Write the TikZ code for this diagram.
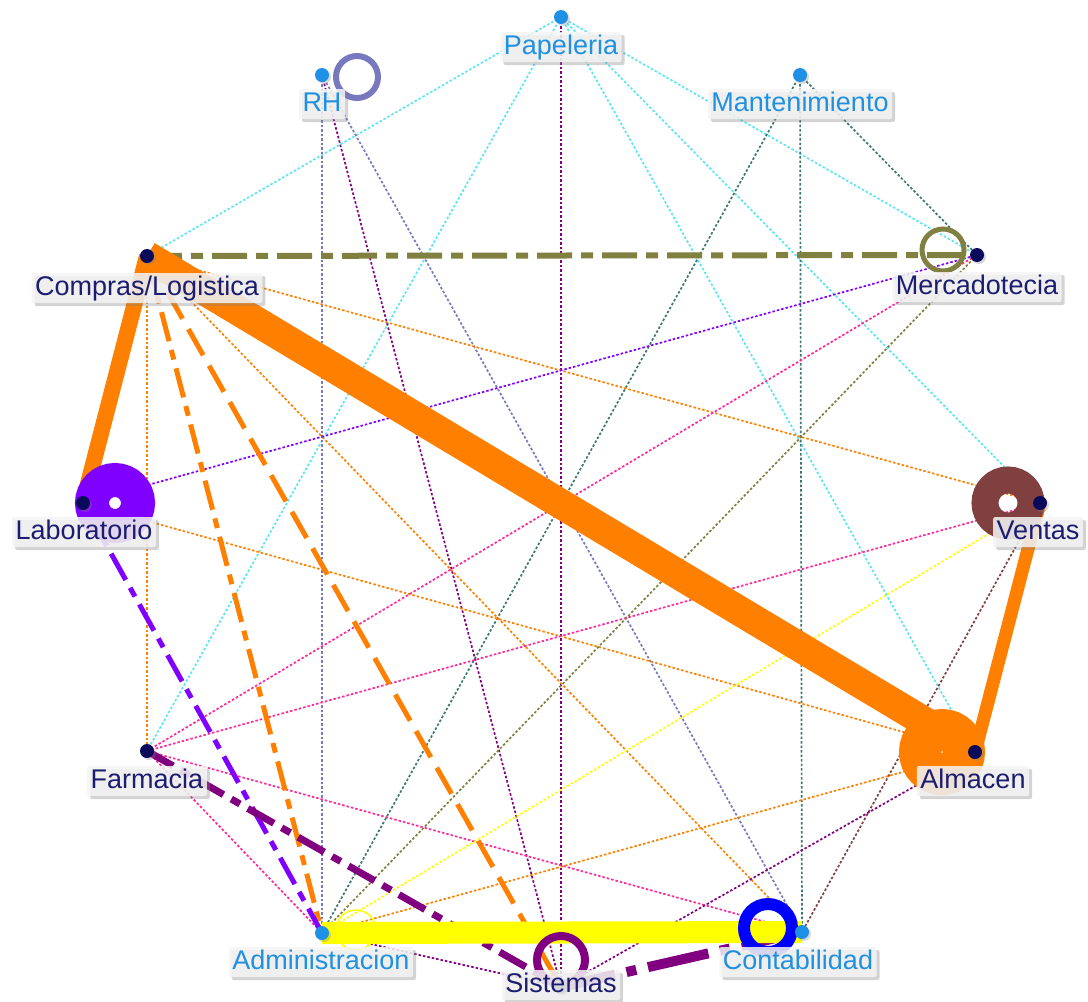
\documentclass[tikz,border=0pt]{standalone}
\usepackage{fontspec}
\setmainfont{Liberation Sans}
\usetikzlibrary{shadows,calc}
\definecolor{cCyan}{RGB}{90,230,240}
\definecolor{cTeal}{RGB}{60,120,110}
\definecolor{cLav}{RGB}{120,120,190}
\definecolor{cPink}{RGB}{255,40,150}
\definecolor{cYel}{RGB}{255,255,0}
\definecolor{cOra}{RGB}{255,128,0}
\definecolor{cOli}{RGB}{128,128,64}
\definecolor{cVio}{RGB}{128,0,255}
\definecolor{cBro}{RGB}{128,64,64}
\definecolor{cPur}{RGB}{128,0,128}
\definecolor{cBlu}{RGB}{0,0,255}
\definecolor{dotNavy}{RGB}{10,10,90}
\definecolor{dotBlue}{RGB}{30,144,230}
\definecolor{txtNavy}{RGB}{28,28,112}
\definecolor{txtBlue}{RGB}{32,144,224}
\definecolor{boxFill}{RGB}{244,244,244}
\pgfdeclarelayer{edges}
\pgfsetlayers{edges,main}
\begin{document}
\begin{tikzpicture}[x=1pt,y=-1pt,
  dotnode/.style={circle,inner sep=0pt,minimum size=14pt,fill=#1,
    drop shadow={shadow xshift=2pt,shadow yshift=-2pt,opacity=0.3}},
  lbl/.style={font=\fontsize{27}{29}\selectfont,text=#1,fill=boxFill,fill opacity=0.85,text opacity=1,
    rounded corners=2pt,inner xsep=3.5pt,inner ysep=2pt,text height=20pt,text depth=6pt,
    drop shadow={shadow xshift=3pt,shadow yshift=-3pt,opacity=0.35}},
  thin/.style={line width=1.7pt,dash pattern=on 2.5pt off 2pt,draw=#1},
  dashdot/.style={line width=#1,dash pattern=on 30pt off 9pt on 10pt off 9pt},
  longdash/.style={line width=#1,dash pattern=on 30pt off 12pt}
]
\useasboundingbox (0,0) rectangle (1088,1002);

% dots
\node[dotnode=dotBlue] (pap) at (561,17) {};
\node[dotnode=dotBlue] (rh) at (322,75) {};
\node[dotnode=dotBlue] (man) at (800,75) {};
\node[dotnode=dotNavy] (com) at (147,256) {};
\node[dotnode=dotNavy] (mer) at (977,255) {};
\node[dotnode=dotNavy] (lab) at (83,503) {};
\node[dotnode=dotNavy] (ven) at (1040,503) {};
\node[dotnode=dotNavy] (far) at (147,751) {};
\node[dotnode=dotNavy] (alm) at (975,752) {};
\node[dotnode=dotBlue] (adm) at (322,933) {};
\node[dotnode=dotBlue] (con) at (802,932) {};
\node[dotnode=dotNavy] (sis) at (561,987) {};

% labels
\node[lbl=txtBlue] (papL) at (561,47) {Papeleria};
\node[lbl=txtBlue] (rhL) at (322,104) {RH};
\node[lbl=txtBlue] (manL) at (800,104) {Mantenimiento};
\node[lbl=txtNavy] (comL) at (147,288) {Compras/Logistica};
\node[lbl=txtNavy] (merL) at (977,287) {Mercadotecia};
\node[lbl=txtNavy] (labL) at (84,532) {Laboratorio};
\node[lbl=txtNavy] (venL) at (1038,532) {Ventas};
\node[lbl=txtNavy] (farL) at (147,781) {Farmacia};
\node[lbl=txtNavy] (almL) at (973,781) {Almacen};
\node[lbl=txtBlue] (admL) at (321,962) {Administracion};
\node[lbl=txtBlue] (conL) at (798,962) {Contabilidad};
\node[lbl=txtNavy] (sisL) at (561,985) {Sistemas};

\begin{pgfonlayer}{edges}
% thin dotted edges
\draw[thin=cCyan] (pap.center) -- (com.center);
\draw[thin=cCyan] (pap.center) -- (far.center);
\draw[thin=cCyan] (pap.center) -- (mer.center);
\draw[thin=cCyan] (pap.center) -- (ven.center);
\draw[thin=cCyan] (pap.center) -- (alm.center);
\draw[thin=cPur] (pap.center) -- (sis.center);
\draw[thin=cLav] (rh.center) -- (adm.center);
\draw[thin=cPur] (rh.center) -- (sis.center);
\draw[thin=cLav] (rh.center) -- (con.center);
\draw[thin=cTeal] (man.center) -- (mer.center);
\draw[thin=cTeal] (man.center) -- (con.center);
\draw[thin=cTeal] (man.center) -- (adm.center);
\draw[thin=cOra] (com.center) -- (far.center);
\draw[thin=cOra] (com.center) -- (ven.center);
\draw[thin=cOra] (com.center) -- (con.center);
\draw[thin=cVio] (lab.center) -- (mer.center);
\draw[thin=cOra] (lab.center) -- (alm.center);
\draw[thin=cPink] (far.center) -- (mer.center);
\draw[thin=cPink] (far.center) -- (ven.center);
\draw[thin=cPink] (far.center) -- (con.center);
\draw[thin=cPink] (far.center) -- (adm.center);
\draw[thin=cOli] (mer.center) -- (adm.center);
\draw[thin=cYel] (ven.center) -- (adm.center);
\draw[thin=cBro] (ven.center) -- (con.center);
\draw[thin=cOra] (alm.center) -- (adm.center);
\draw[thin=cPur] (alm.center) -- (sis.center);
\draw[thin=cPur] (adm.center) -- (sis.center);
% thin yellow self loop of Administracion (partly under the thick edge)
\draw[cYel,line width=1.5pt] ($(adm)+(34,-3)$) circle[radius=20];
% heavier dashed edges
\draw[cOli,line width=6pt,dash pattern=on 35pt off 9pt on 12pt off 9pt] (com.center) -- (mer.center);
\draw[cOra,dashdot=5pt] (com.center) -- (adm.center);
\draw[cOra,longdash=5pt] (com.center) -- (sis.center);
\draw[cVio,dashdot=5pt] (lab.center) -- (adm.center);
\draw[cPur,dashdot=7pt] (far.center) -- (sis.center);
\draw[cPur,line width=10pt,dash pattern=on 62pt off 12pt on 10pt off 12pt] (con.center) -- (sis.center);
% thick solid edges
\draw[cOra,line width=30pt] (com.center) -- (alm.center);
\draw[cOra,line width=16pt] (com.center) -- (lab.center);
\draw[cOra,line width=13pt] (ven.center) -- (alm.center);
\draw[cYel,line width=22pt] (adm.center) -- (con.center);
% self loops
\draw[cLav,line width=6pt] ($(rh)+(35,2)$) circle[radius=21];
\draw[cOli,line width=5pt] ($(mer)+(-34,-5)$) circle[radius=21];
\draw[cVio,line width=34pt] ($(lab)+(32,0)$) circle[radius=23];
\draw[cBro,line width=27pt] ($(ven)+(-32,0)$) circle[radius=23];
\draw[cOra,line width=42pt] ($(alm)+(-33,0)$) circle[radius=22];
\draw[cBlu,line width=12pt] ($(con)+(-34,-4)$) circle[radius=24];
\draw[cPur,line width=8pt] ($(sis)+(0,-27)$) circle[radius=24];
\end{pgfonlayer}
\end{tikzpicture}
\end{document}
